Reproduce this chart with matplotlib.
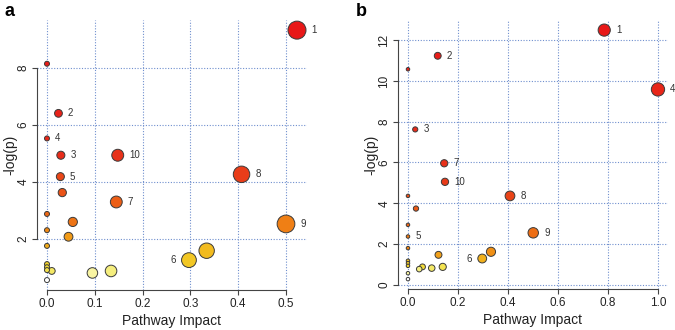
import numpy as np
import matplotlib
matplotlib.use("Agg")
import matplotlib.pyplot as plt
from matplotlib.colors import LinearSegmentedColormap

plt.rcParams['font.family'] = ['Liberation Sans', 'DejaVu Sans']

# panel a
a_impact = [0.523, 0, 0.024, 0, 0.029, 0.148, 0.028, 0.032, 0.407, 0.145, 0, 0.054,
            0.5, 0, 0.045, 0, 0.334, 0.297, 0, 0, 0.01, 0, 0.095, 0.134, 0]
a_logp = [9.32, 8.14, 6.40, 5.52, 4.93, 4.93, 4.18, 3.62, 4.26, 3.29, 2.87, 2.59,
          2.52, 2.30, 2.07, 1.75, 1.58, 1.25, 1.11, 1.00, 0.87, 0.90, 0.80, 0.87, 0.55]
a_labels = ['1', '', '2', '4', '3', '10', '5', '', '8', '7', '', '',
            '9', '', '', '', '', '6', '', '', '', '', '', '', '']
a_xticks = [0.0, 0.1, 0.2, 0.3, 0.4, 0.5]
a_yticks = [2, 4, 6, 8]

# panel b
b_impact = [0.785, 0.119, 0, 1.0, 0.029, 0.145, 0.148, 0.408, 0, 0.032, 0, 0.501, 0,
            0, 0.332, 0.122, 0.297, 0, 0, 0, 0.058, 0.045, 0.095, 0.139, 0, 0]
b_logp = [12.49, 11.23, 10.57, 9.58, 7.62, 5.96, 5.05, 4.36, 4.36, 3.74, 2.94, 2.55, 2.37,
          1.80, 1.62, 1.47, 1.29, 1.18, 1.06, 0.93, 0.88, 0.77, 0.82, 0.88, 0.57, 0.28]
b_labels = ['1', '2', '', '4', '3', '7', '10', '8', '', '', '', '9', '5',
            '', '', '', '6', '', '', '', '', '', '', '', '', '']
b_xticks = [0.0, 0.2, 0.4, 0.6, 0.8, 1.0]
b_yticks = [0, 2, 4, 6, 8, 10, 12]

heat = LinearSegmentedColormap.from_list('heat', [
    (0.0, '#e81818'), (0.2, '#e8301a'), (0.4, '#ec6416'), (0.55, '#f08c14'),
    (0.68, '#f2c020'), (0.78, '#f2d82c'), (0.9, '#f4ec70'), (0.96, '#f8f4a0'),
    (1.0, '#ffffff')])

fig = plt.figure(figsize=(6.75, 3.3), dpi=100)
ax_a = fig.add_axes([0.0548, 0.121, 0.4, 0.818])
ax_b = fig.add_axes([0.5896, 0.124, 0.4, 0.815])


def panel(ax, imp, logp, labels, xticks, yticks, dmin, dk):
    imp = np.array(imp)
    logp = np.array(logp)
    n = len(logp)
    rank = np.empty(n)
    rank[np.argsort(-logp, kind='stable')] = np.arange(n)
    cols = heat(rank / (n - 1))
    diam = (dmin + dk * np.sqrt(imp)) * 0.72  # points
    order = np.argsort(-diam, kind='stable')
    ax.scatter(imp[order], logp[order], s=diam[order] ** 2, c=cols[order],
               edgecolors='#3a3a3a', linewidths=0.7, zorder=3)
    for x, y, d, lab in zip(imp, logp, diam, labels):
        if not lab:
            continue
        if lab == '6':
            ax.annotate(lab, (x, y), xytext=(-d / 2 - 4, 0), textcoords='offset points',
                        ha='right', va='center', fontsize=7, color='#333333')
        else:
            ax.annotate(lab, (x, y), xytext=(d / 2 + 4, 0), textcoords='offset points',
                        ha='left', va='center', fontsize=7, color='#333333')
    xr = imp.max() - imp.min()
    yr = logp.max() - logp.min()
    ax.set_xlim(imp.min() - 0.04 * xr, imp.max() + 0.04 * xr)
    ax.set_ylim(logp.min() - 0.04 * yr, logp.max() + 0.04 * yr)
    ax.set_xticks(xticks)
    ax.set_yticks(yticks)
    ax.set_xticklabels([f'{t:.1f}' for t in xticks])
    ax.set_yticklabels([str(t) for t in yticks], rotation=90, va='center')
    for t in xticks:
        ax.axvline(t, color='#6f8fce', lw=0.8, ls=(0, (1, 1.5)), zorder=1)
    for t in yticks:
        ax.axhline(t, color='#6f8fce', lw=0.8, ls=(0, (1, 1.5)), zorder=1)
    for s in ['top', 'right']:
        ax.spines[s].set_visible(False)
    ax.spines['left'].set_bounds(yticks[0], yticks[-1])
    ax.spines['bottom'].set_bounds(xticks[0], xticks[-1])
    for s in ['left', 'bottom']:
        ax.spines[s].set_color('#444444')
        ax.spines[s].set_linewidth(0.8)
    ax.tick_params(direction='out', length=3.5, width=0.8, color='#444444',
                   labelsize=8.5, labelcolor='#222222')
    ax.tick_params(axis='y', pad=2)
    ax.tick_params(axis='x', pad=2)
    ax.set_xlabel('Pathway Impact', fontsize=10, color='#222222', labelpad=3)
    ax.set_ylabel('-log(p)', fontsize=10, color='#222222')
    ax.yaxis.set_label_coords(-0.072, 0.5)


panel(ax_a, a_impact, a_logp, a_labels, a_xticks, a_yticks, 5.0, 18.0)
panel(ax_b, b_impact, b_logp, b_labels, b_xticks, b_yticks, 3.5, 9.8)

fig.text(0.006, 0.99, 'a', fontsize=13, fontweight='bold', va='top', ha='left')
fig.text(0.527, 0.99, 'b', fontsize=13, fontweight='bold', va='top', ha='left')

fig.savefig('out.png', dpi=100)
